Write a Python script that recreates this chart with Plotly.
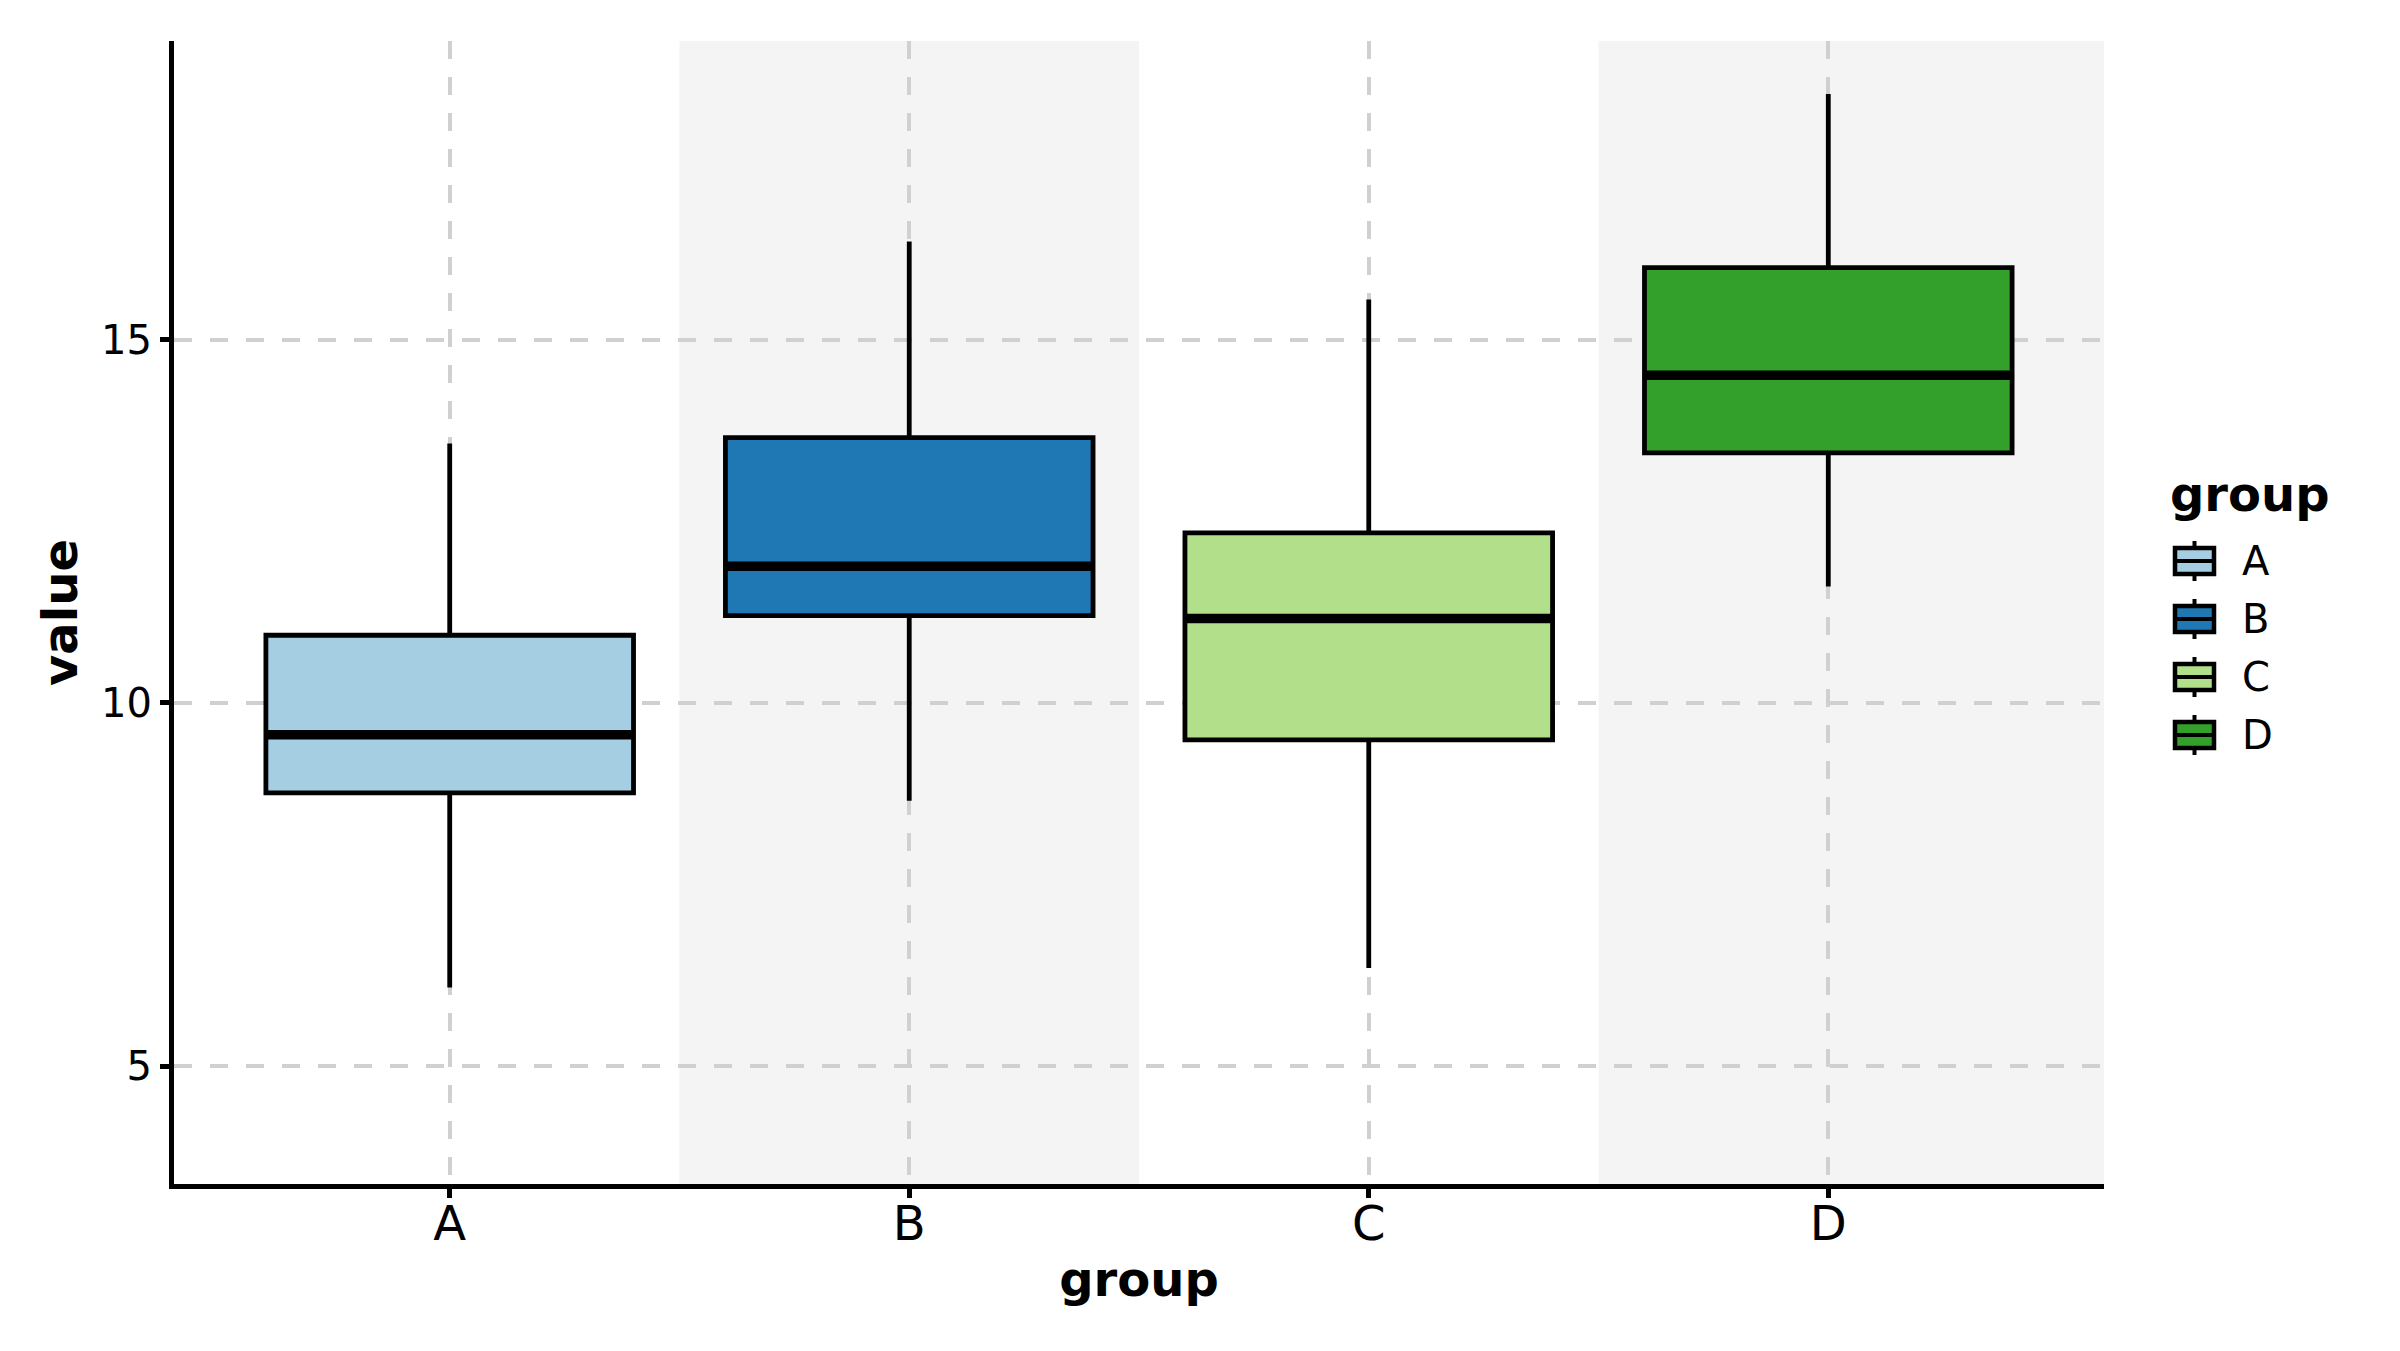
import plotly.graph_objects as go

groups = ["A", "B", "C", "D"]
colors = ["#a6cee3", "#1f78b4", "#b2df8a", "#33a02c"]
lower = [6.08, 8.65, 6.35, 11.60]
q1 = [8.76, 11.20, 9.49, 13.44]
median = [9.56, 11.88, 11.16, 14.51]
q3 = [10.93, 13.65, 12.34, 15.99]
upper = [13.57, 16.35, 15.55, 18.38]
y_ticks = [5, 10, 15]

FONT = "DejaVu Sans"
W, H = 2400, 1351
ML, MR, MT, MB = 166, 304, 33, 175
PW, PH = W - ML - MR, H - MT - MB
X_MIN, X_MAX = -0.6, len(groups) - 0.4
GRID = dict(showgrid=True, gridcolor="#d0d0d0", gridwidth=3.5, griddash="18px,18px")


def px_x(fx):
    return (fx - ML) / PW


def px_y(fy):
    return 1 - (fy - MT) / PH


fig = go.Figure()
for i, g in enumerate(groups):
    fig.add_trace(go.Box(
        x=[g], q1=[q1[i]], median=[median[i]], q3=[q3[i]],
        lowerfence=[lower[i]], upperfence=[upper[i]],
        name=g, fillcolor=colors[i], line=dict(color="black", width=4.8),
        whiskerwidth=0, width=0.8, boxpoints=False, hoverinfo="skip",
        showlegend=False,
    ))

shapes = []
annotations = []
# alternating background bands
for i in range(len(groups)):
    if i % 2 == 1:
        x1 = X_MAX if i == len(groups) - 1 else i + 0.5
        shapes.append(dict(type="rect", xref="x", yref="paper",
                           x0=i - 0.5, x1=x1, y0=0, y1=1,
                           fillcolor="#f4f4f4", line=dict(width=0), layer="below"))
# thick median lines
for i in range(len(groups)):
    shapes.append(dict(type="line", xref="x", yref="y",
                       x0=i - 0.4, x1=i + 0.4, y0=median[i], y1=median[i],
                       line=dict(color="black", width=9.5), layer="above"))

# legend (drawn manually to match the box-glyph keys)
leg_x0, leg_x1 = 2167, 2206
leg_cx = (leg_x0 + leg_x1) / 2
leg_y_first, leg_step = 553, 58
annotations.append(dict(text="<b>group</b>", xref="paper", yref="paper",
                        x=px_x(2160), y=px_y(486), xanchor="left", yanchor="middle",
                        showarrow=False, font=dict(size=48, family=FONT, color="black")))
for i, g in enumerate(groups):
    cy = leg_y_first + i * leg_step
    shapes.append(dict(type="line", xref="paper", yref="paper",
                       x0=px_x(leg_cx), x1=px_x(leg_cx), y0=px_y(cy - 20), y1=px_y(cy + 20),
                       line=dict(color="black", width=4)))
    shapes.append(dict(type="rect", xref="paper", yref="paper",
                       x0=px_x(leg_x0), x1=px_x(leg_x1), y0=px_y(cy - 13), y1=px_y(cy + 13),
                       fillcolor=colors[i], line=dict(color="black", width=4.5)))
    shapes.append(dict(type="line", xref="paper", yref="paper",
                       x0=px_x(leg_x0), x1=px_x(leg_x1), y0=px_y(cy), y1=px_y(cy),
                       line=dict(color="black", width=4)))
    annotations.append(dict(text=g, xref="paper", yref="paper",
                            x=px_x(2232), y=px_y(cy), xanchor="left", yanchor="middle",
                            showarrow=False, font=dict(size=40, family=FONT, color="black")))

fig.update_layout(
    width=W, height=H,
    paper_bgcolor="white", plot_bgcolor="white",
    margin=dict(l=ML, r=MR, t=MT, b=MB),
    font=dict(family=FONT, color="black", size=40),
    shapes=shapes,
    annotations=annotations,
    showlegend=False,
    xaxis=dict(
        categoryorder="array", categoryarray=groups,
        range=[X_MIN, X_MAX],
        showline=True, linecolor="black", linewidth=5,
        ticks="outside", ticklen=9, tickwidth=5, tickcolor="black",
        tickfont=dict(size=48, family=FONT), ticklabelstandoff=-16,
        title=dict(text="<b>group</b>", font=dict(size=48, family=FONT), standoff=14),
        zeroline=False, **GRID,
    ),
    yaxis=dict(
        range=[3.376, 19.11],
        tickvals=y_ticks, ticktext=[str(v) for v in y_ticks],
        showline=True, linecolor="black", linewidth=5,
        ticks="outside", ticklen=9, tickwidth=5, tickcolor="black",
        tickfont=dict(size=40, family=FONT),
        title=dict(text="<b>value</b>", font=dict(size=48, family=FONT), standoff=10),
        zeroline=False, **GRID,
    ),
)

fig.write_html("out.html")
